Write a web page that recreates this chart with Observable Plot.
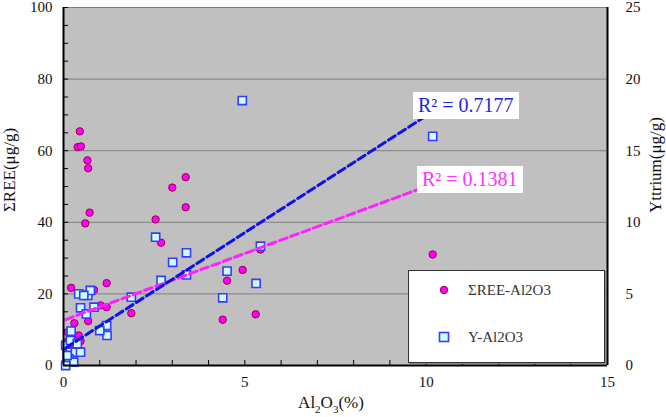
<!DOCTYPE html>
<html>
<head>
<meta charset="utf-8">
<script src="https://cdn.jsdelivr.net/npm/d3@7"></script>
<script src="https://cdn.jsdelivr.net/npm/@observablehq/plot@0.6"></script>
<style>
  body { margin: 0; background: #fff; }
  #wrap { position: relative; width: 666px; height: 417px; font-family: "Liberation Serif", "Times New Roman", Times, "DejaVu Serif", serif; color: #111; }
  #wrap svg text { font-family: "Liberation Serif", "Times New Roman", Times, "DejaVu Serif", serif; }
  .title { position: absolute; font-size: 17px; white-space: nowrap; }
  .r2 { position: absolute; background: #fff; font-size: 20px; line-height: 27px; padding: 0 5px; white-space: nowrap; }
  #legend { position: absolute; left: 408px; top: 270px; width: 195px; height: 91px; background: #fff; border: 1px solid #333; box-shadow: 1px 1px 0 #888; font-size: 15px; color: #333; }
  #legend .row { position: absolute; left: 28px; display: flex; align-items: center; }
  #legend .row span { margin-left: 17px; }
</style>
</head>
<body>
<div id="wrap"></div>
<script>
// Al2O3 content (%) and total REE (μg/g) for each sample
const alREE  = [0.45, 0.39, 0.48, 0.66, 0.68, 0.72, 0.60, 0.21, 0.84, 1.19, 1.02, 1.19, 1.87, 0.30, 0.68,
                2.54, 2.69, 3.00, 3.37, 3.37, 4.94, 4.51, 5.43, 4.39, 5.30, 10.18,
                0.12, 0.47, 0.42, 0.19, 0.08, 0.06, 0.25];
const reeVal = [65.4, 61.0, 61.2, 57.3, 55.1, 42.7, 39.7, 21.7, 21.1, 23.0, 16.8, 16.3, 14.6, 11.8, 12.4,
                40.8, 34.3, 49.7, 52.6, 44.2, 26.7, 23.7, 32.4, 12.8, 14.3, 31.0,
                9.3, 6.8, 8.4, 7.9, 6.5, 6.1, 4.5];

// Al2O3 content (%) and yttrium (μg/g) for each sample
const alY  = [4.93, 10.18, 2.54, 3.39, 3.01, 5.43, 4.51, 5.31, 2.69, 3.39, 4.39, 1.87,
              1.19, 1.20, 1.00, 0.42, 0.67, 0.74, 0.56, 0.47, 0.63, 0.84, 0.21,
              0.06, 0.19, 0.33, 0.47, 0.15, 0.28, 0.06, 0.19, 0.38, 0.10];
const yVal = [18.5, 16.0, 8.96, 7.87, 7.21, 8.33, 6.59, 5.73, 5.94, 6.33, 4.73, 4.77,
              2.79, 2.10, 2.44, 5.00, 4.89, 5.24, 4.89, 4.03, 3.60, 4.07, 2.40,
              1.40, 0.93, 0.93, 0.93, 0.47, 0.23, 0.00, 1.75, 1.52, 0.70];

// Linear trend coefficients (slope, intercept) and R² of each series
const trendREE = { slope: 3.74, intercept: 12.6, r2: 0.1381 };
const trendY   = { slope: 1.63, intercept: 1.13, r2: 0.7177 };

// Axis settings: left ΣREE 0–100, right Yttrium 0–25
const reeTicks = [0, 20, 40, 60, 80, 100];
const xLabelTicks = [0, 5, 10, 15];
const yRatio = 100 / 25;

const reeData = alREE.map((a, i) => ({ al: a, v: reeVal[i] }));
const yData = alY.map((a, i) => ({ al: a, v: yVal[i] * yRatio }));

function trendLine(xs, t, scale) {
  const [x0, x1] = d3.extent(xs);
  return [x0, x1].map(x => ({ al: x, v: (t.intercept + t.slope * x) * scale }));
}
const lineREE = trendLine(alREE, trendREE, 1);
const lineY = trendLine(alY, trendY, yRatio);

const serif = "'Liberation Serif', 'Times New Roman', Times, 'DejaVu Serif', serif";

const chart = Plot.plot({
  width: 666,
  height: 417,
  marginLeft: 63,
  marginRight: 59,
  marginTop: 7,
  marginBottom: 52,
  style: { background: "transparent", fontFamily: serif, fontSize: "15px", color: "#111" },
  x: { domain: [0, 15] },
  y: { domain: [0, 100] },
  marks: [
    Plot.frame({ fill: "#c0c0c0", stroke: null }),
    Plot.ruleY(reeTicks.slice(1), { stroke: "#7f7f7f", strokeWidth: 1 }),
    // inward tick marks
    Plot.ruleX(d3.range(0, 16, 1), { y1: 0, y2: 1.4, stroke: "#000", strokeWidth: 1 }),
    Plot.ruleY(d3.range(0, 101, 5), { x1: 0, x2: 0.14, stroke: "#000", strokeWidth: 1 }),
    Plot.dot(reeData, { x: "al", y: "v", r: 3.7, fill: "#ff00ff", stroke: "#9a0040", strokeWidth: 1 }),
    Plot.dot(yData, { x: "al", y: "v", symbol: "square", r: 4.6, fill: "#ccffff", stroke: "#3a3aff", strokeWidth: 1.6 }),
    Plot.line(lineREE, { x: "al", y: "v", stroke: "#ff22ff", strokeWidth: 3, strokeDasharray: "8,4" }),
    Plot.line(lineY, { x: "al", y: "v", stroke: "#1010e8", strokeWidth: 3, strokeDasharray: "8,4" }),
    // axis lines
    Plot.ruleX([0, 15], { stroke: "#000", strokeWidth: 2 }),
    Plot.ruleY([0], { stroke: "#000", strokeWidth: 2 }),
    Plot.axisX({ ticks: xLabelTicks, tickSize: 0, tickPadding: 11, label: null, fontFamily: serif }),
    Plot.axisY({ anchor: "left", ticks: reeTicks, tickSize: 0, tickPadding: 11, label: null, fontFamily: serif }),
    Plot.axisY({ anchor: "right", ticks: reeTicks, tickSize: 0, tickPadding: 18, tickFormat: d => d / yRatio, label: null, fontFamily: serif })
  ]
});

const wrap = document.getElementById("wrap");
wrap.appendChild(chart);

function addDiv(cls, html, css) {
  const el = document.createElement("div");
  el.className = cls;
  el.innerHTML = html;
  Object.assign(el.style, css);
  wrap.appendChild(el);
  return el;
}

// axis titles
addDiv("title", "ΣREE(μg/g)", { left: "10px", top: "170px", transform: "translate(-50%,-50%) rotate(-90deg)" });
addDiv("title", "Yttrium(μg/g)", { left: "656px", top: "165px", transform: "translate(-50%,-50%) rotate(-90deg)" });
addDiv("title", "Al<sub style='font-size:11px'>2</sub>O<sub style='font-size:11px'>3</sub>(%)", { left: "331px", top: "404px", transform: "translate(-50%,-50%)" });

// R² labels
addDiv("r2", "R² = " + trendY.r2.toFixed(4), { left: "413px", top: "92px", color: "#1f1fe6" });
addDiv("r2", "R² = " + trendREE.r2.toFixed(4), { left: "417px", top: "166px", color: "#ff33ff" });

// legend
addDiv("", `
  <div class="row" style="top:6px;height:26px"><svg width="14" height="14"><circle cx="7" cy="7" r="3.7" fill="#ff00ff" stroke="#9a0040"/></svg><span>ΣREE-Al2O3</span></div>
  <div class="row" style="top:53px;height:26px"><svg width="14" height="14"><rect x="2.5" y="2.5" width="9" height="9" fill="#ccffff" stroke="#3a3aff" stroke-width="1.6"/></svg><span>Y-Al2O3</span></div>
`, {}).id = "legend";
</script>
</body>
</html>
